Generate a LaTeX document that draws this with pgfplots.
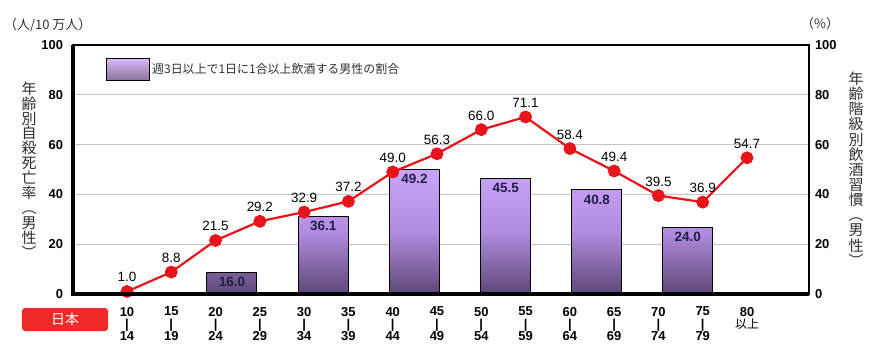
\documentclass[border=0pt]{standalone}
\usepackage{pgfplots}
\pgfplotsset{compat=1.18}
\usepackage{fontspec}
\setmainfont{Liberation Sans}
\newfontfamily\cjk{Noto Sans CJK JP}
\definecolor{linered}{HTML}{E8141C}
\definecolor{bartop}{HTML}{C9A3F7}
\definecolor{barmid}{HTML}{B18CE0}
\definecolor{barbot}{HTML}{5D4776}
\definecolor{legtop}{HTML}{D8B8FA}
\definecolor{legbot}{HTML}{8A7399}
\definecolor{gridgray}{HTML}{C4C4C4}
\definecolor{labnavy}{HTML}{1E1E46}
\definecolor{boxred}{HTML}{F02A28}
\definecolor{txtgray}{HTML}{303030}

\pgfplotstableread{
x y lab
2.37 8.6 16.0
4.43 31.3 36.1
6.49 50.0 49.2
8.55 46.5 45.5
10.61 41.8 40.8
12.66 26.8 24.0
}\bardata

\pgfplotstableread{
x y lab
0 1.0 1.0
1 8.8 8.8
2 21.5 21.5
3 29.2 29.2
4 32.9 32.9
5 37.2 37.2
6 49.0 49.0
7 56.3 56.3
8 66.0 66.0
9 71.1 71.1
10 58.4 58.4
11 49.4 49.4
12 39.5 39.5
13 36.9 36.9
14 54.7 54.7
}\linedata

\begin{document}
\begin{tikzpicture}[x=1bp,y=1bp]
\useasboundingbox (0,0) rectangle (871,359);
\begin{axis}[
  at={(73bp,65bp)}, anchor=south west,
  scale only axis, width=736bp, height=249bp,
  xmin=-1.219, xmax=15.40, ymin=0, ymax=100,
  xtick={0,...,14},
  xticklabels={{10\\|\\14},{15\\|\\19},{20\\|\\24},{25\\|\\29},{30\\|\\34},{35\\|\\39},{40\\|\\44},{45\\|\\49},{50\\|\\54},{55\\|\\59},{60\\|\\64},{65\\|\\69},{70\\|\\74},{75\\|\\79},{80\\{\cjk\mdseries\fontsize{12}{12}\selectfont 以上}}},
  ytick={0,20,...,100},
  ymajorgrids, grid style={gridgray, line width=1.2bp},
  major tick length=0pt,
  axis line style={black, line width=1.5bp},
  tick label style={font=\bfseries\fontsize{13}{12.5}\selectfont},
  /pgf/number format/assume math mode=true,
  xticklabel style={align=center, yshift=-9.5bp},
  yticklabel style={xshift=-6.5bp},
  legend style={at={(0.0448,0.948)}, anchor=north west, draw=none, fill=none,
    inner sep=0pt, font=\cjk\fontsize{12}{14}\selectfont, text=txtgray},
  after end axis/.code={
    \draw[line width=3.2bp, black] (rel axis cs:0,1) -- (rel axis cs:0,0) -- (rel axis cs:1,0);
  },
]
\addplot[ybar, bar width=50bp, bar shift=0pt, draw=black, line width=1bp,
  top color=bartop, bottom color=barbot, middle color=barmid,
  nodes near coords, point meta=explicit symbolic,
  nodes near coords style={anchor=north, font=\bfseries\fontsize{13.5}{14}\selectfont, text=labnavy, yshift=-1bp},
  legend image code/.code={
    \draw[black, line width=1bp, top color=legtop, bottom color=legbot] (0bp,-11bp) rectangle (43bp,11bp);
  }]
  table[x=x, y=y, meta=lab] {\bardata};
\addlegendentry{週3日以上で1日に1合以上飲酒する男性の割合}
\addplot[linered, line width=2.2bp, mark=*, mark size=5.3bp,
  mark options={fill=linered, draw=linered},
  nodes near coords, point meta=explicit symbolic,
  nodes near coords style={anchor=south, font=\fontsize{13.5}{14}\selectfont, text=black, yshift=5bp},
  forget plot]
  table[x=x, y=y, meta=lab] {\linedata};
\end{axis}
\begin{axis}[
  at={(73bp,65bp)}, anchor=south west,
  scale only axis, width=736bp, height=249bp,
  xmin=-1.219, xmax=15.40, ymin=0, ymax=100,
  axis x line=none, axis y line*=right,
  ytick={0,20,...,100},
  major tick length=0pt,
  axis line style={black, line width=1.5bp},
  tick label style={font=\bfseries\fontsize{13}{12.5}\selectfont},
  /pgf/number format/assume math mode=true,
  yticklabel style={xshift=2.5bp},
]
\addplot[draw=none] coordinates {(0,0)};
\end{axis}
\draw[black, line width=1.5bp] (73,314) -- (809,314);
\node[font=\cjk\fontsize{13}{14}\selectfont, text=txtgray, anchor=west, inner sep=0] at (4,334) {（人/10 万人）};
\node[font=\cjk\fontsize{13}{14}\selectfont, text=txtgray, anchor=west, inner sep=0] at (801,335) {（\%）};
\node[font=\cjk\fontsize{15}{15}\selectfont, text=txtgray, align=center, inner sep=0] at (29,189)
  {年\\齢\\別\\自\\殺\\死\\亡\\率\\︵\\男\\性\\︶};
\node[font=\cjk\fontsize{15}{15.2}\selectfont, text=txtgray, align=center, inner sep=0] at (856,190)
  {年\\齢\\階\\級\\別\\飲\\酒\\習\\慣\\︵\\男\\性\\︶};
\node[fill=boxred, rounded corners=3bp, minimum width=86bp, minimum height=23bp, inner sep=0,
  text=white, font=\cjk\fontsize{14}{14}\selectfont] at (65,39.5) {日本};
\end{tikzpicture}
\end{document}
